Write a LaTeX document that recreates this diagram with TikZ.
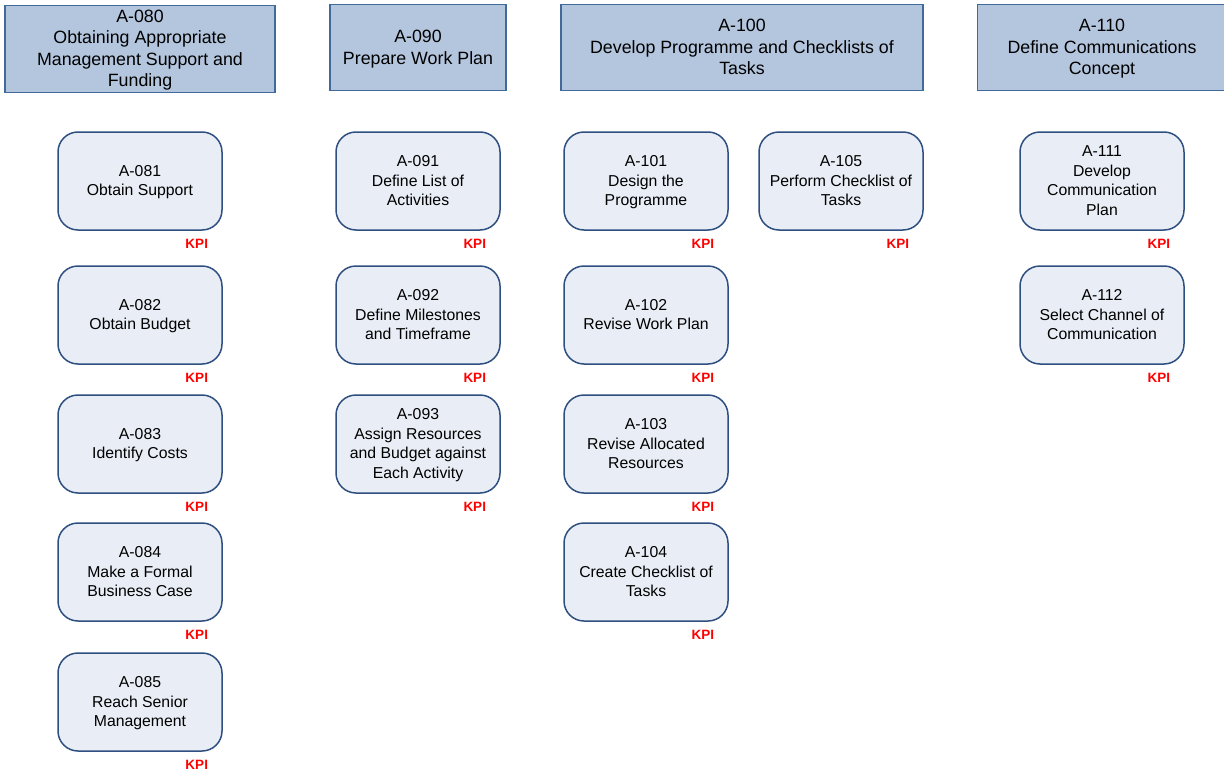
\documentclass[tikz,border=0pt]{standalone}
\usepackage{fontspec}
\setmainfont{Liberation Sans}
\definecolor{headfill}{HTML}{B4C6DE}
\definecolor{headline}{HTML}{41699A}
\definecolor{taskfill}{HTML}{E9EEF6}
\definecolor{taskline}{HTML}{2E4F80}
\definecolor{kpired}{HTML}{FF0000}
\tikzset{
  header/.style={draw=headline, fill=headfill, line width=1.2pt, align=center,
    inner sep=0pt, font=\fontsize{17.8}{21.6}\selectfont, text=black},
  task/.style={draw=taskline, fill=taskfill, line width=1.5pt, rounded corners=20pt,
    minimum width=164pt, minimum height=98pt, inner sep=0pt, align=center,
    font=\fontsize{15.8}{19.5}\selectfont, text=black},
  kpi/.style={font=\fontsize{13.5}{15}\selectfont\bfseries, text=kpired, inner sep=0pt}
}
% struts that fix the height of the first line and the depth of the last one
\newcommand{\headtext}[1]{\rule{0pt}{15.5pt}#1\rule[-4pt]{0pt}{4pt}}
\newcommand{\tasktext}[1]{\rule{0pt}{13.5pt}#1\rule[-3.5pt]{0pt}{3.5pt}}
% an activity box with its KPI tag below the right corner
\newcommand{\activity}[3]{%
  \node[task] (#1) at (#2) {\tasktext{#3}};
  \node[kpi] (#1k) at ([xshift=-26pt,yshift=-13pt]#1.south east) {KPI};}
\begin{document}
\begin{tikzpicture}[x=1pt,y=-1pt]
\useasboundingbox (0,0) rectangle (1224,771);
\fill[white] (0,0) rectangle (1224,771);

% column headers (the last one runs past the right margin)
\node[header, minimum width=270pt, minimum height=87pt] (h080) at (140,48.8)
  {\headtext{A-080\\Obtaining Appropriate\\Management Support and\\Funding}};
\node[header, minimum width=176pt, minimum height=86.5pt] (h090) at (418,47.6)
  {\headtext{A-090\\Prepare Work Plan}};
\node[header, minimum width=362pt, minimum height=86.5pt] (h100) at (742,47.6)
  {\headtext{A-100\\Develop Programme and Checklists of\\Tasks}};
\node[header, minimum width=249pt, minimum height=86.5pt] (h110) at (1102,47.6)
  {\headtext{A-110\\Define Communications\\Concept}};

% A-080 activities
\activity{a081}{140,181}{A-081\\Obtain Support}
\activity{a082}{140,315}{A-082\\Obtain Budget}
\activity{a083}{140,444}{A-083\\Identify Costs}
\activity{a084}{140,572}{A-084\\Make a Formal\\Business Case}
\activity{a085}{140,702}{A-085\\Reach Senior\\Management}

% A-090 activities
\activity{a091}{418,181}{A-091\\Define List of\\Activities}
\activity{a092}{418,315}{A-092\\Define Milestones\\and Timeframe}
\activity{a093}{418,444}{A-093\\Assign Resources\\and Budget against\\Each Activity}

% A-100 activities
\activity{a101}{646,181}{A-101\\Design the\\Programme}
\activity{a102}{646,315}{A-102\\Revise Work Plan}
\activity{a103}{646,444}{A-103\\Revise Allocated\\Resources}
\activity{a104}{646,572}{A-104\\Create Checklist of\\Tasks}
\activity{a105}{841,181}{A-105\\Perform Checklist of\\Tasks}

% A-110 activities
\activity{a111}{1102,181}{A-111\\Develop\\Communication\\Plan}
\activity{a112}{1102,315}{A-112\\Select Channel of\\Communication}
\end{tikzpicture}
\end{document}
